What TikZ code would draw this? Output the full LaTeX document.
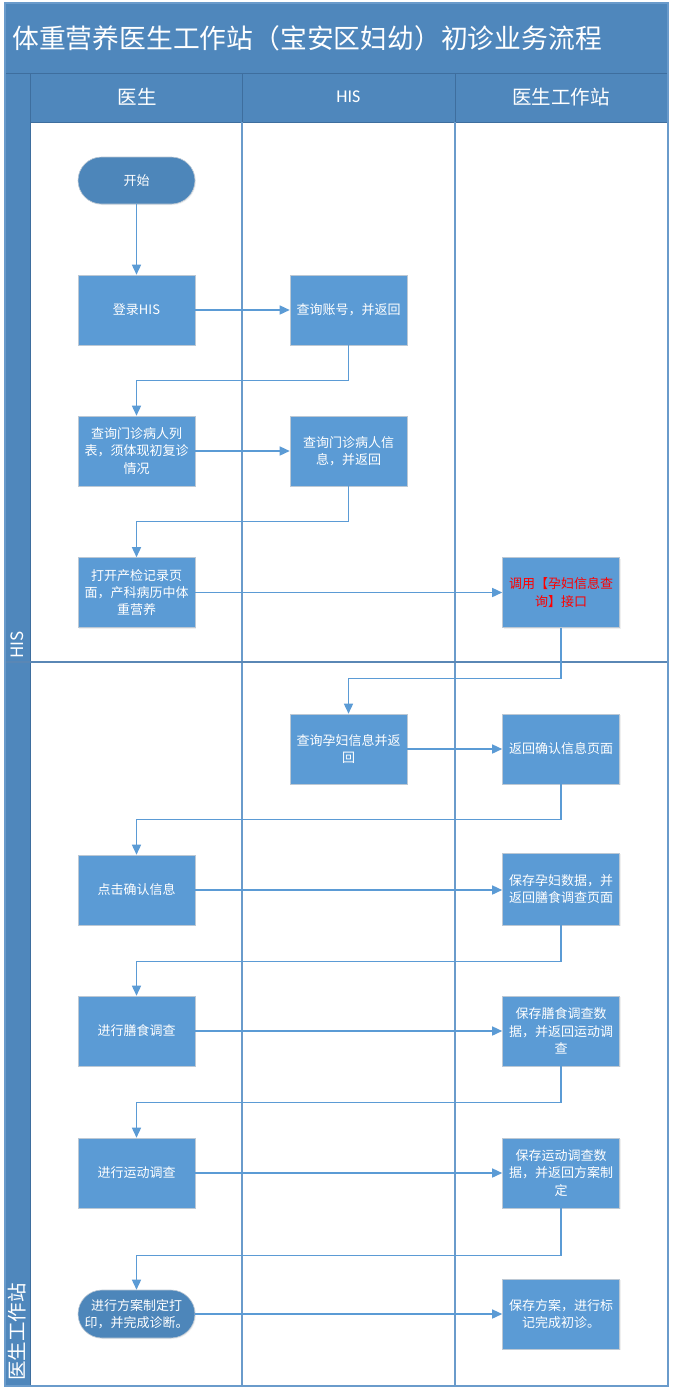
\documentclass[tikz,border=0pt]{standalone}
\usepackage{fontspec}
\setmainfont{Noto Sans CJK SC}
\newfontfamily\latf{Carlito}
\usetikzlibrary{arrows.meta,shadows}
\definecolor{hdrblue}{HTML}{4F87BC}
\definecolor{hdrline}{HTML}{3E6E9E}
\definecolor{boxblue}{HTML}{5B9BD5}
\definecolor{termblue}{HTML}{4D86BA}
\definecolor{boxedge}{HTML}{BCC8D4}
\definecolor{colline}{HTML}{6A9BCB}
\definecolor{laneline}{HTML}{5A87B5}
\definecolor{flowblue}{HTML}{5B9BD5}
\tikzset{
  procbox/.style={rectangle, fill=boxblue, draw=boxedge, line width=0.6pt,
    minimum width=117pt, minimum height=70pt, inner sep=0pt, text=white,
    align=center, font=\fontsize{13}{17.3}\selectfont,
    drop shadow={shadow xshift=1pt, shadow yshift=-1pt, opacity=0.12}},
  termbox/.style={procbox, fill=termblue, draw=boxedge, rounded corners=23.5pt,
    minimum height=47pt},
  flow/.style={draw=flowblue, line width=1.5pt,
    -{Triangle[length=10pt,width=9pt]}},
  swimline/.style={draw=colline, line width=2pt},
}
\begin{document}
\begin{tikzpicture}[x=1pt,y=-1pt]
\useasboundingbox (0,0) rectangle (674,1395);
\fill[white] (0,0) rectangle (674,1395);

% title bar, header row and left lane strip
\fill[hdrblue] (5,3) rectangle (668,122);
\fill[hdrblue] (5,122) rectangle (30,1386);
\draw[hdrline, line width=1pt] (5,73) -- (668,73);
\draw[hdrline, line width=1pt] (30,73) -- (30,1386);
\draw[hdrline, line width=1pt] (242,73) -- (242,122);
\draw[hdrline, line width=1pt] (455,73) -- (455,122);
\draw[hdrline, line width=0.8pt] (30,122) -- (668,122);

% column separators and lane divider
\draw[swimline] (242,122) -- (242,1386);
\draw[swimline] (455,122) -- (455,1386);
\draw[laneline, line width=1.2pt] (5,662) -- (668,662);

% outer frame
\draw[colline, line width=2pt] (5,3) rectangle (668,1386);

% texts in the header
\node[anchor=west, text=white, font=\fontsize{26.8}{30}\selectfont, inner sep=0pt]
  (title) at (12,38) {体重营养医生工作站（宝安区妇幼）初诊业务流程};
\node[text=white, font=\fontsize{19.5}{22}\selectfont] (hdoc) at (137,97) {医生};
\node[text=white, font=\latf\fontsize{18}{20}\selectfont] (hhis) at (348.5,97) {HIS};
\node[text=white, font=\fontsize{19.5}{22}\selectfont] (hws) at (561,97) {医生工作站};
\node[text=white, rotate=90, font=\fontsize{17}{20}\selectfont] (lhis) at (17.5,645) {HIS};
\node[text=white, rotate=90, font=\fontsize{19.5}{22}\selectfont] (lws) at (17.5,1332) {医生工作站};

% process steps
\node[termbox] (start) at (136.5,180.5) {开始};
\node[procbox] (login) at (136.5,310) {登录HIS};
\node[procbox] (qacct) at (348.5,310) {查询账号，并返回};
\node[procbox] (qlist) at (136.5,451) {查询门诊病人列\\表，须体现初复诊\\情况};
\node[procbox] (qinfo) at (348.5,451) {查询门诊病人信\\息，并返回};
\node[procbox] (openrec) at (136.5,592.5) {打开产检记录页\\面，产科病历中体\\重营养};
\node[procbox, text=red] (callif) at (561,592.5) {调用【孕妇信息查\\询】接口};
\node[procbox] (qpreg) at (348.5,749) {查询孕妇信息并返\\回};
\node[procbox] (retconf) at (561,749) {返回确认信息页面};
\node[procbox] (confirm) at (136.5,890) {点击确认信息};
\node[procbox, minimum height=72pt] (savepreg) at (561,889) {保存孕妇数据，并\\返回膳食调查页面};
\node[procbox] (diet) at (136.5,1031) {进行膳食调查};
\node[procbox] (savediet) at (561,1031) {保存膳食调查数\\据，并返回运动调\\查};
\node[procbox] (sport) at (136.5,1173) {进行运动调查};
\node[procbox] (savesport) at (561,1173) {保存运动调查数\\据，并返回方案制\\定};
\node[termbox, minimum height=48pt, rounded corners=24pt] (plan) at (136.5,1314) {进行方案制定打\\印，并完成诊断。};
\node[procbox] (saveplan) at (561,1314) {保存方案，进行标\\记完成初诊。};

% connectors
\draw[flow] (start) -- (login);
\draw[flow] (login) -- (qacct);
\draw[flow] (qacct.south) -- ++(0,35) -| (qlist.north);
\draw[flow] (qlist) -- (qinfo);
\draw[flow] (qinfo.south) -- ++(0,35) -| (openrec.north);
\draw[flow] (openrec) -- (callif);
\draw[flow] (callif.south) -- ++(0,50.5) -| (qpreg.north);
\draw[flow] (qpreg) -- (retconf);
\draw[flow] (retconf.south) -- ++(0,35) -| (confirm.north);
\draw[flow] (confirm.east) -- (savepreg.west |- confirm.east);
\draw[flow] (savepreg.south) -- ++(0,36) -| (diet.north);
\draw[flow] (diet) -- (savediet);
\draw[flow] (savediet.south) -- ++(0,36) -| (sport.north);
\draw[flow] (sport) -- (savesport);
\draw[flow] (savesport.south) -- ++(0,47) -| (plan.north);
\draw[flow] (plan) -- (saveplan);
\end{tikzpicture}
\end{document}
